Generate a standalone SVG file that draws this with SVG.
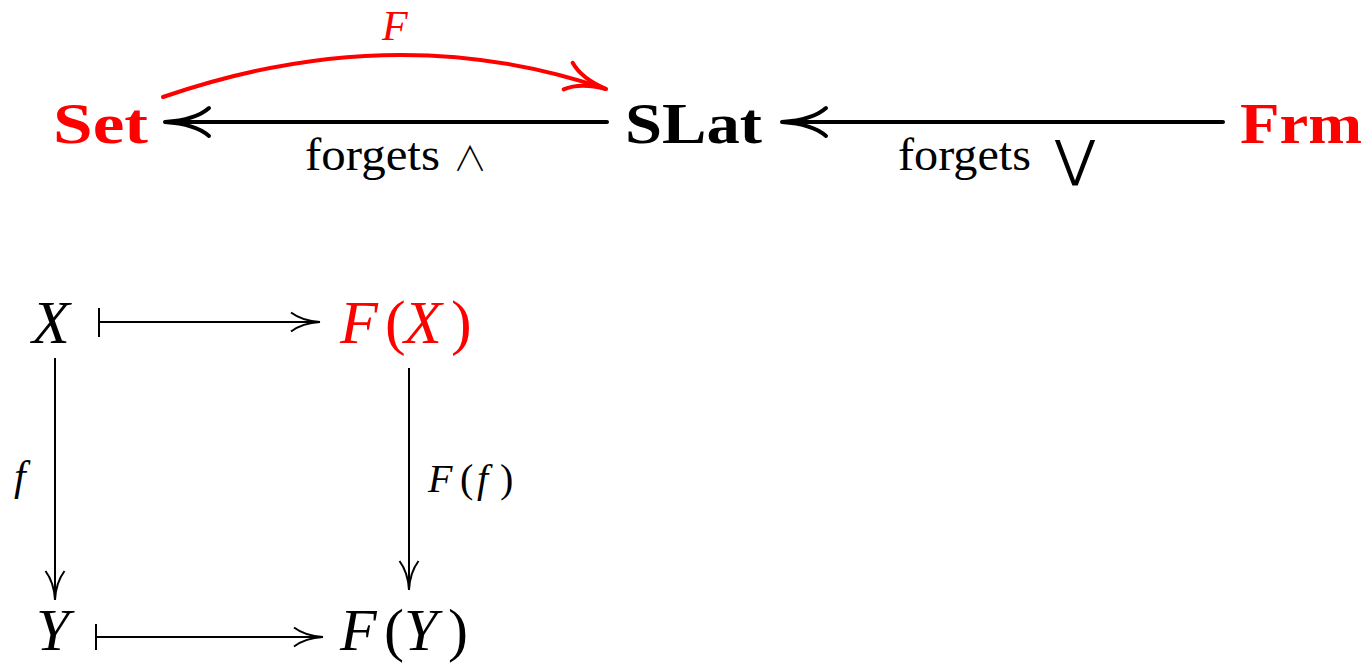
<svg xmlns="http://www.w3.org/2000/svg" width="1368" height="664" viewBox="0 0 1368 664">
<defs>
<style>
text{font-family:"Liberation Serif","DejaVu Serif",serif;}
.bold{font-weight:bold;font-size:56px;}
.red{fill:#ff0000;}
.blk{fill:#000;}
.it{font-style:italic;}
.lbl{font-size:46px;}
.thick{fill:none;stroke:#000;stroke-width:4;stroke-linecap:round;}
.thickred{fill:none;stroke:#ff0000;stroke-width:4;stroke-linecap:round;}
.thin{fill:none;stroke:#000;stroke-width:2;}
</style>
<marker id="hk" markerUnits="userSpaceOnUse" markerWidth="60" markerHeight="40" refX="0" refY="0" orient="auto" overflow="visible">
<path d="M-44,-14 C-34,-5 -15,-1 0,0 C-15,1 -34,5 -44,14" fill="none" stroke="#000" stroke-width="4" stroke-linecap="round"/>
</marker>
<marker id="hr" markerUnits="userSpaceOnUse" markerWidth="60" markerHeight="40" refX="0" refY="0" orient="auto" overflow="visible">
<path d="M-40,-14 C-30,-5 -14,-1 0,0 C-14,1 -30,5 -40,14" fill="none" stroke="#ff0000" stroke-width="4" stroke-linecap="round"/>
</marker>
<marker id="ht" markerUnits="userSpaceOnUse" markerWidth="40" markerHeight="30" refX="0" refY="0" orient="auto" overflow="visible">
<path d="M-29,-9.5 C-21,-3.5 -9,-0.5 0,0 C-9,0.5 -21,3.5 -29,9.5" fill="none" stroke="#000" stroke-width="2"/>
</marker>
</defs>

<g id="connectors">
<path id="e-F" class="thickred" d="M163,97 Q395,17 606,89" marker-end="url(#hr)"/>
<text class="red it" x="382" y="40" font-size="42">F</text>
<line id="e-slat-set" class="thick" x1="607" y1="122" x2="165" y2="122" marker-end="url(#hk)"/>
<text class="blk lbl" x="305" y="170" textLength="135" lengthAdjust="spacingAndGlyphs">forgets</text>
<text class="blk" x="470" y="171" text-anchor="middle" font-size="34" font-weight="300" style="font-family:'Noto Sans CJK JP',sans-serif">∧</text>
<line id="e-frm-slat" class="thick" x1="1223" y1="122" x2="782" y2="122" marker-end="url(#hk)"/>
<text class="blk lbl" x="898" y="170" textLength="133" lengthAdjust="spacingAndGlyphs">forgets</text>
<text class="blk" x="1055" y="176" font-size="50" textLength="40" lengthAdjust="spacingAndGlyphs" style="font-family:'DejaVu Sans',sans-serif">⋁</text>

<g id="e-x-fx">
<line class="thin" x1="99" y1="308" x2="99" y2="337"/>
<line class="thin" x1="99" y1="322" x2="320" y2="322" marker-end="url(#ht)"/>
</g>
<g id="e-y-fy">
<line class="thin" x1="96" y1="624" x2="96" y2="650"/>
<line class="thin" x1="96" y1="637" x2="323" y2="637" marker-end="url(#ht)"/>
</g>
<line id="e-x-y" class="thin" x1="55" y1="358" x2="55" y2="600" marker-end="url(#ht)"/>
<text class="blk it" x="14" y="490" font-size="42">f</text>
<line id="e-fx-fy" class="thin" x1="409" y1="368" x2="409" y2="590" marker-end="url(#ht)"/>
<text class="blk" y="492" font-size="40"><tspan class="it" x="428">F</tspan><tspan x="460">(</tspan><tspan class="it" x="477">f</tspan><tspan x="500">)</tspan></text>
</g>

<g id="n-set"><text class="bold red" x="53" y="143" textLength="95" lengthAdjust="spacingAndGlyphs">Set</text></g>
<g id="n-slat"><text class="bold blk" x="625" y="143" textLength="137" lengthAdjust="spacingAndGlyphs">SLat</text></g>
<g id="n-frm"><text class="bold red" x="1240" y="143" textLength="122" lengthAdjust="spacingAndGlyphs">Frm</text></g>

<g id="n-x"><text class="blk it" x="32" y="343" font-size="62">X</text></g>
<g id="n-fx"><text class="red" y="343" font-size="62"><tspan class="it" x="340">F</tspan><tspan x="385">(</tspan><tspan class="it" x="404">X</tspan><tspan x="451">)</tspan></text></g>
<g id="n-y"><text class="blk it" x="36" y="650" font-size="60">Y</text></g>
<g id="n-fy"><text class="blk" y="650" font-size="60"><tspan class="it" x="340">F</tspan><tspan x="384">(</tspan><tspan class="it" x="404">Y</tspan><tspan x="448">)</tspan></text></g>
</svg>
